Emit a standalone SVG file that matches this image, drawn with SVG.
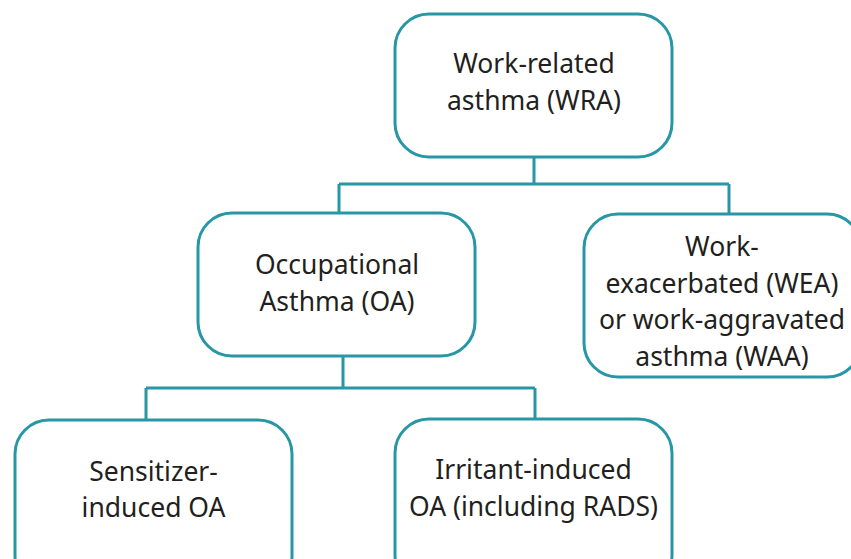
<svg xmlns="http://www.w3.org/2000/svg" width="851" height="559" viewBox="0 0 851 559">
<style>
.box{fill:#fff;stroke:#2797a6;stroke-width:3}
.conn{fill:none;stroke:#2797a6;stroke-width:3}
text{font-family:"Noto Sans","Liberation Sans",sans-serif;font-size:26.5px;fill:#231f20;text-anchor:middle}
</style>
<rect width="851" height="559" fill="#fff"/>
<g id="connectors">
<path class="conn" d="M534 157V184M339 184H729M339 184V212M729 184V213"/>
<path class="conn" d="M343 356V388M146 388H535M146 388V419M535 388V418"/>
</g>
<g id="wra">
<rect class="box" x="395" y="14" width="277" height="143" rx="34"/>
<text x="534" y="73">Work-related</text>
<text x="534" y="110">asthma (WRA)</text>
</g>
<g id="oa">
<rect class="box" x="198" y="213" width="277" height="143" rx="34"/>
<text x="337" y="274">Occupational</text>
<text x="337" y="311">Asthma (OA)</text>
</g>
<g id="wea">
<rect class="box" x="584" y="214" width="277" height="163" rx="34"/>
<text x="722" y="256">Work-</text>
<text x="722" y="293">exacerbated (WEA)</text>
<text x="722" y="329">or work-aggravated</text>
<text x="722" y="366">asthma (WAA)</text>
</g>
<g id="sensitizer">
<rect class="box" x="15" y="420" width="277" height="170" rx="34"/>
<text x="153.5" y="481">Sensitizer-</text>
<text x="153.5" y="517">induced OA</text>
</g>
<g id="irritant">
<rect class="box" x="395" y="419" width="277" height="170" rx="34"/>
<text x="533.5" y="479">Irritant-induced</text>
<text x="533.5" y="516">OA (including RADS)</text>
</g>
</svg>
